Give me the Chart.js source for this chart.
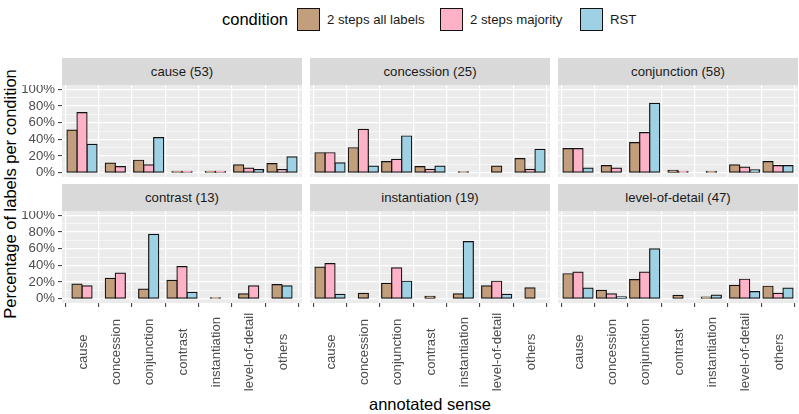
<!DOCTYPE html>
<html><head><meta charset="utf-8">
<script src="https://cdn.jsdelivr.net/npm/chart.js@4.4.1/dist/chart.umd.min.js"></script>
<style>
body{margin:0;width:799px;height:414px;background:#fff;position:relative;overflow:hidden;font-family:"Liberation Sans",Arial,sans-serif;}
.strip{position:absolute;background:#D9D9D9;color:#1A1A1A;font-size:13.2px;text-align:center;}
canvas{position:absolute;}
.txt{position:absolute;white-space:nowrap;}
.key{position:absolute;width:23px;height:23px;border:1.3px solid #111;box-sizing:border-box;}
</style></head><body>
<script>
// ---------- data ----------
const categories = ['cause','concession','conjunction','contrast','instantiation','level-of-detail','others'];
const conditions = ['2 steps all labels','2 steps majority','RST'];
const panelTitles = ['cause (53)','concession (25)','conjunction (58)','contrast (13)','instantiation (19)','level-of-detail (47)'];
const yTickValues = [0,20,40,60,80,100];

const causeAll = [51, 11.5, 15, 1.9, 1.9, 9.5, 11];
const causeMaj = [72, 7.5, 9.5, 1.9, 1.9, 5.7, 3.8];
const causeRst = [34, null, 42, null, null, 3.8, 19];

const concessionAll = [24, 30, 13.5, 7.5, 1.2, 8, 17];
const concessionMaj = [24, 52, 16, 4, null, null, 4];
const concessionRst = [12, 8, 44, 8, null, null, 28];

const conjunctionAll = [29, 8.5, 36, 3, 1.7, 9.5, 13.5];
const conjunctionMaj = [29, 5.5, 48, 1.7, null, 6.9, 8.6];
const conjunctionRst = [5.5, null, 83, null, null, 3.4, 8.6];

const contrastAll = [17.5, 24.5, 11.5, 22, 1.2, 6, 17];
const contrastMaj = [15.4, 30.8, null, 38.5, null, 15.4, null];
const contrastRst = [null, null, 77, 7.7, null, null, 15.4];

const instantiationAll = [38, 6.5, 18.5, 3, 5.9, 15.5, 13];
const instantiationMaj = [42, null, 37, null, null, 21, null];
const instantiationRst = [5.3, null, 21, null, 68.4, 5.3, null];

const levelAll = [30, 10, 23, 4, 2, 16, 15];
const levelMaj = [32, 6, 32, null, null, 23.4, 6.4];
const levelRst = [12.8, 2.4, 59.6, null, 4.3, 8.5, 12.8];

const panelSeries = [
  [causeAll, causeMaj, causeRst],
  [concessionAll, concessionMaj, concessionRst],
  [conjunctionAll, conjunctionMaj, conjunctionRst],
  [contrastAll, contrastMaj, contrastRst],
  [instantiationAll, instantiationMaj, instantiationRst],
  [levelAll, levelMaj, levelRst]
];

// ---------- style / layout ----------
const colors = ['#C29E7D','#FDB2C8','#9DD1E3'];
const FONT = '"Liberation Sans", Arial, sans-serif';
const PANEL_X = [62, 310, 558], PANEL_W = 240;
const ROW_TOP = [85, 211], PLOT_H = 92, STRIP_H = 27;
const AXIS_W = 62, XLAB_H = 100;

const bgPlugin = {
  id:'panelBg',
  beforeDraw(chart){
    const {ctx, chartArea:a} = chart;
    ctx.save(); ctx.fillStyle = '#EBEBEB';
    ctx.fillRect(a.left, a.top, a.right-a.left, a.bottom-a.top);
    ctx.restore();
  }
};
const xLabelPlugin = {
  id:'xLabels',
  afterDraw(chart, args, opts){
    if(!opts.show) return;
    const {ctx, chartArea:a} = chart;
    const sx = chart.scales.x;
    ctx.save();
    ctx.fillStyle = '#4D4D4D';
    ctx.font = '13.2px ' + FONT;
    ctx.textAlign = 'center'; ctx.textBaseline = 'middle';
    categories.forEach((c,i)=>{
      const x = sx.getPixelForValue(i);
      ctx.save(); ctx.translate(x + 1, a.bottom + 49); ctx.rotate(-Math.PI/2);
      ctx.fillText(c, 0, 0); ctx.restore();
    });
    ctx.restore();
  }
};

function noPad(s){ s.paddingTop = 0; s.paddingBottom = 0; s.paddingLeft = 0; s.paddingRight = 0; }

// legend & titles
function addDiv(cls, html, style){
  const d = document.createElement('div'); d.className = cls; d.textContent = html;
  Object.assign(d.style, style); document.body.appendChild(d); return d;
}
addDiv('txt','condition',{left:'222px',top:'10px',fontSize:'16.5px',color:'#000'});
const legendX = [[297,327],[440,470],[580,610]];
conditions.forEach((c,k)=>{
  addDiv('key','',{left:legendX[k][0]+'px',top:'8px',background:colors[k]});
  addDiv('txt',c,{left:legendX[k][1]+'px',top:'12px',fontSize:'13.2px',color:'#1A1A1A'});
});
addDiv('txt','Percentage of labels per condition',{left:'10px',top:'194px',fontSize:'16.5px',color:'#000',transform:'translate(-50%,-50%) rotate(-90deg)'});
addDiv('txt','annotated sense',{left:'430px',top:'395px',fontSize:'16.5px',color:'#000',transform:'translateX(-50%)'});

panelSeries.forEach((series, p)=>{
  const r = Math.floor(p/3), c = p%3;
  addDiv('strip', panelTitles[p], {left:PANEL_X[c]+'px', top:(ROW_TOP[r]-STRIP_H)+'px', width:PANEL_W+'px', height:STRIP_H+'px', lineHeight:STRIP_H+'px'});
  const cv = document.createElement('canvas');
  const left = PANEL_X[c] - (c===0 ? AXIS_W : 0);
  const w = PANEL_W + (c===0 ? AXIS_W : 0);
  const h = PLOT_H + (r===1 ? XLAB_H : 0);
  cv.width = w; cv.height = h;
  Object.assign(cv.style, {left:left+'px', top:ROW_TOP[r]+'px', width:w+'px', height:h+'px'});
  document.body.appendChild(cv);
  new Chart(cv, {
    type:'bar',
    data:{datasets: series.map((arr,k)=>({
      label: conditions[k],
      data: arr.map((v,i)=>({x:i, y:v})),
      backgroundColor: colors[k], borderColor:'#111111', borderWidth:1.2, borderSkipped:false,
      inflateAmount:0.6, barThickness:10, skipNull:true
    }))},
    options:{
      responsive:false, animation:false, devicePixelRatio:1,
      layout:{padding:0},
      plugins:{legend:{display:false}, tooltip:{enabled:false}, xLabels:{show: r===1}},
      scales:{
        x:{type:'linear', min:-0.6, max:6.6, offset:false,
          afterBuildTicks: s=>{ s.ticks = categories.map((_,i)=>({value:i})); },
          afterFit: s=>{ s.height = r===1 ? XLAB_H : 0; noPad(s); },
          ticks:{display:false},
          grid:{color:'#FFFFFF', lineWidth:1.2, drawTicks: r===1, tickLength:4, tickColor:'#333333', tickWidth:1},
          border:{display:false}},
        y:{type:'linear', min:-5, max:105,
          afterBuildTicks: s=>{ const t=[]; for(let v=0; v<=100; v+=10) t.push({value:v}); s.ticks = t; },
          afterFit: s=>{ s.width = c===0 ? AXIS_W : 0; noPad(s); },
          ticks:{display: c===0, autoSkip:false, callback: v => yTickValues.includes(v) ? v+'%' : '',
                 color:'#4D4D4D', font:{family:FONT, size:13.2}, padding:3},
          grid:{color:'#FFFFFF',
                lineWidth: ctx => (ctx.tick && yTickValues.includes(ctx.tick.value)) ? 1.2 : 0.6,
                drawTicks: c===0, tickLength:4,
                tickColor: ctx => (ctx.tick && yTickValues.includes(ctx.tick.value)) ? '#333333' : 'rgba(0,0,0,0)',
                tickWidth:1},
          border:{display:false}}
      }
    },
    plugins:[bgPlugin, xLabelPlugin]
  });
});
</script>
</body></html>
